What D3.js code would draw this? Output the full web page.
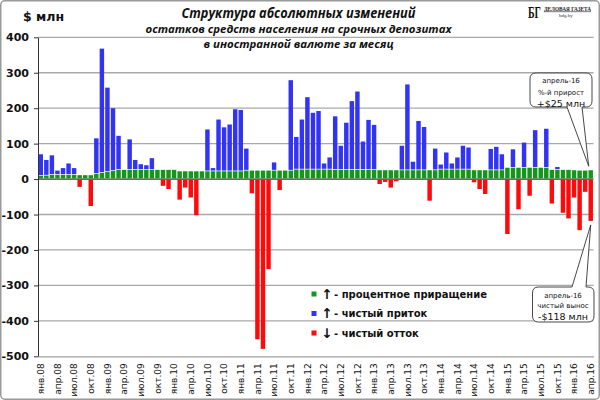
<!DOCTYPE html>
<html>
<head>
<meta charset="utf-8">
<script src="https://cdn.jsdelivr.net/npm/d3@7"></script>
<style>
html,body{margin:0;padding:0;background:#fff;}
svg{display:block;}
</style>
</head>
<body>
<svg id="chart" width="600" height="400"></svg>
<script>
// ---------- DATA ----------
const monthNames = ["янв","фев","мар","апр","май","июн","июл","авг","сен","окт","ноя","дек"];
const years = ["08","09","10","11","12","13","14","15","16"];
const categories = years.flatMap(y => monthNames.map(m => m + "." + y)).slice(0, 100); // янв.08 .. апр.16

// green: процентное приращение
const greenValues = [
  9,10,12,12,12,12,12,11,11,11,
  15,18,20,23,26,26,26,26,26,26,
  26,26,26,26,26,22,22,22,22,22,
  22,22,22,22,22,22,22,24,24,24,
  24,24,24,24,24,24,27,27,27,27,
  27,27,27,26,26,26,26,26,26,26,
  26,25,25,25,25,25,25,25,25,25,
  25,25,27,27,27,27,27,27,25,25,
  25,25,25,25,32,32,32,32,32,32,
  32,32,26,26,26,26,25,24,24,25
];
// blue: чистый приток
const blueValues = [
  61,44,55,12,19,32,19,0,0,0,
  100,350,238,177,96,0,86,28,16,13,
  33,0,0,0,0,0,0,0,0,0,
  118,9,146,124,132,175,173,62,0,0,
  0,0,23,0,0,255,92,141,204,160,
  165,17,34,151,68,133,194,221,80,141,
  127,0,0,0,0,69,242,24,139,122,
  0,61,14,48,17,34,67,62,0,0,
  0,60,66,45,0,52,0,71,0,106,
  0,110,0,8,0,0,0,0,0,0
];
// red: чистый отток
const redValues = [
  0,0,0,0,0,0,0,-22,0,-76,
  0,0,0,0,0,0,0,0,0,0,
  0,0,-19,-28,0,-58,-24,-52,-102,0,
  0,0,0,0,0,0,0,0,-40,-452,
  -479,-254,0,-31,0,0,0,0,0,0,
  0,0,0,0,0,0,0,0,0,0,
  0,-14,-8,-24,-6,0,0,0,0,0,
  -61,0,0,0,0,0,0,0,-9,-28,
  -42,0,0,0,-155,0,-85,0,-47,0,
  0,0,-69,0,-95,-111,-52,-144,-36,-118
];
const yTicks = [400,300,200,100,0,-100,-200,-300,-400,-500];
const xTickLabels = ["янв.08","апр.08","июл.08","окт.08","янв.09","апр.09","июл.09","окт.09",
  "янв.10","апр.10","июл.10","окт.10","янв.11","апр.11","июл.11","окт.11",
  "янв.12","апр.12","июл.12","окт.12","янв.13","апр.13","июл.13","окт.13",
  "янв.14","апр.14","июл.14","окт.14","янв.15","апр.15","июл.15","окт.15",
  "янв.16","апр.16"];
const legendArrows = ["↑","↑","↓"];
const legendLabels = ["- процентное приращение","- чистый  приток","- чистый  отток"];
const titleLines = ["Структура абсолютных изменений",
  "остатков  средств  населения  на срочных  депозитах",
  "в иностранной  валюте  за месяц"];
const calloutTop = ["апрель-16","%-й прирост","+$25 млн"];
const calloutBottom = ["апрель-16","чистый вынос","-$118 млн"];

// ---------- STYLE ----------
const COLORS = {green:"#13961a", blue:"#3333f5", red:"#ff0a0a"};
const FONT = "'DejaVu Sans', Verdana, sans-serif";

const svg = d3.select("#chart");
const plotLeft = 38, plotRight = 593.5, plotTop = 37.3, plotBottom = 356.3;

const x = d3.scaleBand().domain(categories).range([plotLeft, plotRight]).paddingInner(0.2).paddingOuter(0.1);
const y = d3.scaleLinear().domain([-500, 400]).range([plotBottom, plotTop]);

// outer frame
svg.append("rect").attr("x",0.75).attr("y",0.75).attr("width",598.5).attr("height",398.5)
  .attr("rx",4).attr("fill","#fff").attr("stroke","#9a9a9a").attr("stroke-width",1.5);

// gridlines
svg.append("g").selectAll("line").data(yTicks.filter(v => v !== -500)).join("line")
  .attr("x1", plotLeft).attr("x2", plotRight)
  .attr("y1", d => y(d)).attr("y2", d => y(d))
  .attr("stroke", d => d === 0 ? "#3a3a3a" : "#a9a9a9")
  .attr("stroke-width", d => d === 0 ? 1.2 : 1.3);

// bars
const idx = d3.range(categories.length);
const bw = x.bandwidth();
svg.append("g").selectAll("rect").data(idx.filter(i => greenValues[i] > 0)).join("rect")
  .attr("x", i => x(categories[i])).attr("width", bw)
  .attr("y", i => y(greenValues[i])).attr("height", i => y(0) - y(greenValues[i]) - 0.6)
  .attr("fill", COLORS.green);
svg.append("g").selectAll("rect").data(idx.filter(i => blueValues[i] > 0)).join("rect")
  .attr("x", i => x(categories[i])).attr("width", bw)
  .attr("y", i => y(greenValues[i] + blueValues[i]))
  .attr("height", i => y(greenValues[i]) - y(greenValues[i] + blueValues[i]) - 0.7)
  .attr("fill", COLORS.blue);
svg.append("g").selectAll("rect").data(idx.filter(i => redValues[i] < 0)).join("rect")
  .attr("x", i => x(categories[i])).attr("width", bw)
  .attr("y", y(0) + 0.6).attr("height", i => y(redValues[i]) - y(0) - 0.6)
  .attr("fill", COLORS.red);

// y axis
const yAxis = svg.append("g").attr("transform", `translate(${plotLeft},0)`)
  .call(d3.axisLeft(y).tickValues(yTicks).tickSize(4).tickSizeOuter(0).tickPadding(5).tickFormat(d => String(d)));
yAxis.select(".domain").attr("stroke","#333");
yAxis.selectAll(".tick line").attr("stroke","#333");
yAxis.selectAll("text").attr("font-family", FONT).attr("font-weight","bold").attr("font-size", 11).attr("fill","#111");

// x axis
const xTickCats = xTickLabels.map((_, k) => categories[k * 3]);
const xAxis = svg.append("g").attr("transform", `translate(0,${plotBottom})`)
  .call(d3.axisBottom(x).tickValues(xTickCats).tickSize(0).tickSizeOuter(0)
    .tickFormat((d, k) => xTickLabels[k]));
xAxis.select(".domain").attr("stroke","#a0a0a0").attr("stroke-width",1.3);
xAxis.selectAll("text")
  .attr("transform","rotate(-90)").attr("x",-7).attr("y",0).attr("dy","0.35em")
  .style("text-anchor","end")
  .attr("font-family", FONT).attr("font-size", 9).attr("fill","#111");

// title
const tSizes = [13.5, 11, 11];
const tY = [18, 33, 47.5];
const tLen = [234, 306, 190];
svg.append("g").selectAll("text").data(titleLines).join("text")
  .attr("x", 298.5).attr("y", (d, i) => tY[i])
  .attr("text-anchor","middle")
  .attr("font-family","'Open Sans', 'Liberation Sans', sans-serif")
  .attr("font-style","italic").attr("font-weight","bold")
  .attr("font-size", (d, i) => tSizes[i])
  .attr("textLength", (d, i) => tLen[i]).attr("lengthAdjust","spacingAndGlyphs")
  .attr("fill","#111").text(d => d);

// unit label
svg.append("text").attr("x", 23).attr("y", 21).attr("font-family", FONT)
  .attr("font-weight","bold").attr("font-size", 12.5).attr("fill","#111").text("$ млн");

// logo
svg.append("text").attr("x", 528).attr("y", 18).attr("font-family","'Liberation Serif', 'DejaVu Serif', serif")
  .attr("font-weight","bold").attr("font-size", 16).attr("textLength", 13).attr("lengthAdjust","spacingAndGlyphs")
  .attr("fill","#111").text("БГ");
svg.append("text").attr("x", 544).attr("y", 10.5).attr("font-family","'Liberation Serif', serif")
  .attr("font-weight","bold").attr("font-size", 6).attr("textLength", 47).attr("lengthAdjust","spacingAndGlyphs")
  .attr("text-decoration","underline").attr("fill","#222").text("ДЕЛОВАЯ ГАЗЕТА");
svg.append("text").attr("x", 559).attr("y", 17).attr("font-family","'Liberation Serif', serif")
  .attr("font-size", 5).attr("fill","#333").text("bdg.by");

// legend
const legendColors = [COLORS.green, COLORS.blue, COLORS.red];
const lg = svg.append("g");
const rowY = [294, 313.5, 333];
legendLabels.forEach((lab, i) => {
  lg.append("rect").attr("x", 311.5).attr("y", rowY[i] - 2.5).attr("width", 5).attr("height", 5).attr("fill", legendColors[i]);
  lg.append("text").attr("x", 327).attr("y", rowY[i]).attr("dy","0.36em").attr("text-anchor","middle")
    .attr("font-family", FONT).attr("font-weight","bold").attr("font-size", 13.5).attr("fill","#111").text(legendArrows[i]);
  lg.append("text").attr("x", 334).attr("y", rowY[i]).attr("dy","0.36em")
    .attr("font-family", FONT).attr("font-weight","bold").attr("font-size", 10).attr("fill","#111").text(lab);
});

// callouts
const last = categories.length - 1;
const cx = x(categories[last]) + bw / 2;
function callout(x0, y0, x1, y1, r, bA, bB, tip, onBottom) {
  let p = `M${x0 + r},${y0}`;
  if (!onBottom) p += `H${bA}L${tip[0]},${tip[1]}L${bB},${y0}`;
  p += `H${x1 - r}Q${x1},${y0} ${x1},${y0 + r}V${y1 - r}Q${x1},${y1} ${x1 - r},${y1}`;
  if (onBottom) p += `H${bB}L${tip[0]},${tip[1]}L${bA},${y1}`;
  p += `H${x0 + r}Q${x0},${y1} ${x0},${y1 - r}V${y0 + r}Q${x0},${y0} ${x0 + r},${y0}Z`;
  return p;
}
const tipTop = [cx - 2, y(greenValues[last]) - 4];
const tipBot = [cx, y(redValues[last]) + 4];
svg.append("path").attr("d", callout(530, 73, 592, 107, 6, 567, 582, tipTop, true))
  .attr("fill","#fff").attr("stroke","#333").attr("stroke-width",0.9);
svg.append("path").attr("d", callout(532.5, 287, 594, 322, 6, 572, 586, tipBot, false))
  .attr("fill","#fff").attr("stroke","#333").attr("stroke-width",0.9);

function calloutText(lines, cxT, ys) {
  const g = svg.append("g");
  lines.forEach((t, i) => {
    g.append("text").attr("x", cxT).attr("y", ys[i]).attr("text-anchor","middle")
      .attr("font-family", FONT).attr("font-size", i === 2 ? 9.5 : 7)
      .attr("fill","#111").text(t);
  });
}
calloutText(calloutTop, 561, [83, 95, 107]);
calloutText(calloutBottom, 563, [298, 308, 320]);
</script>
</body>
</html>
